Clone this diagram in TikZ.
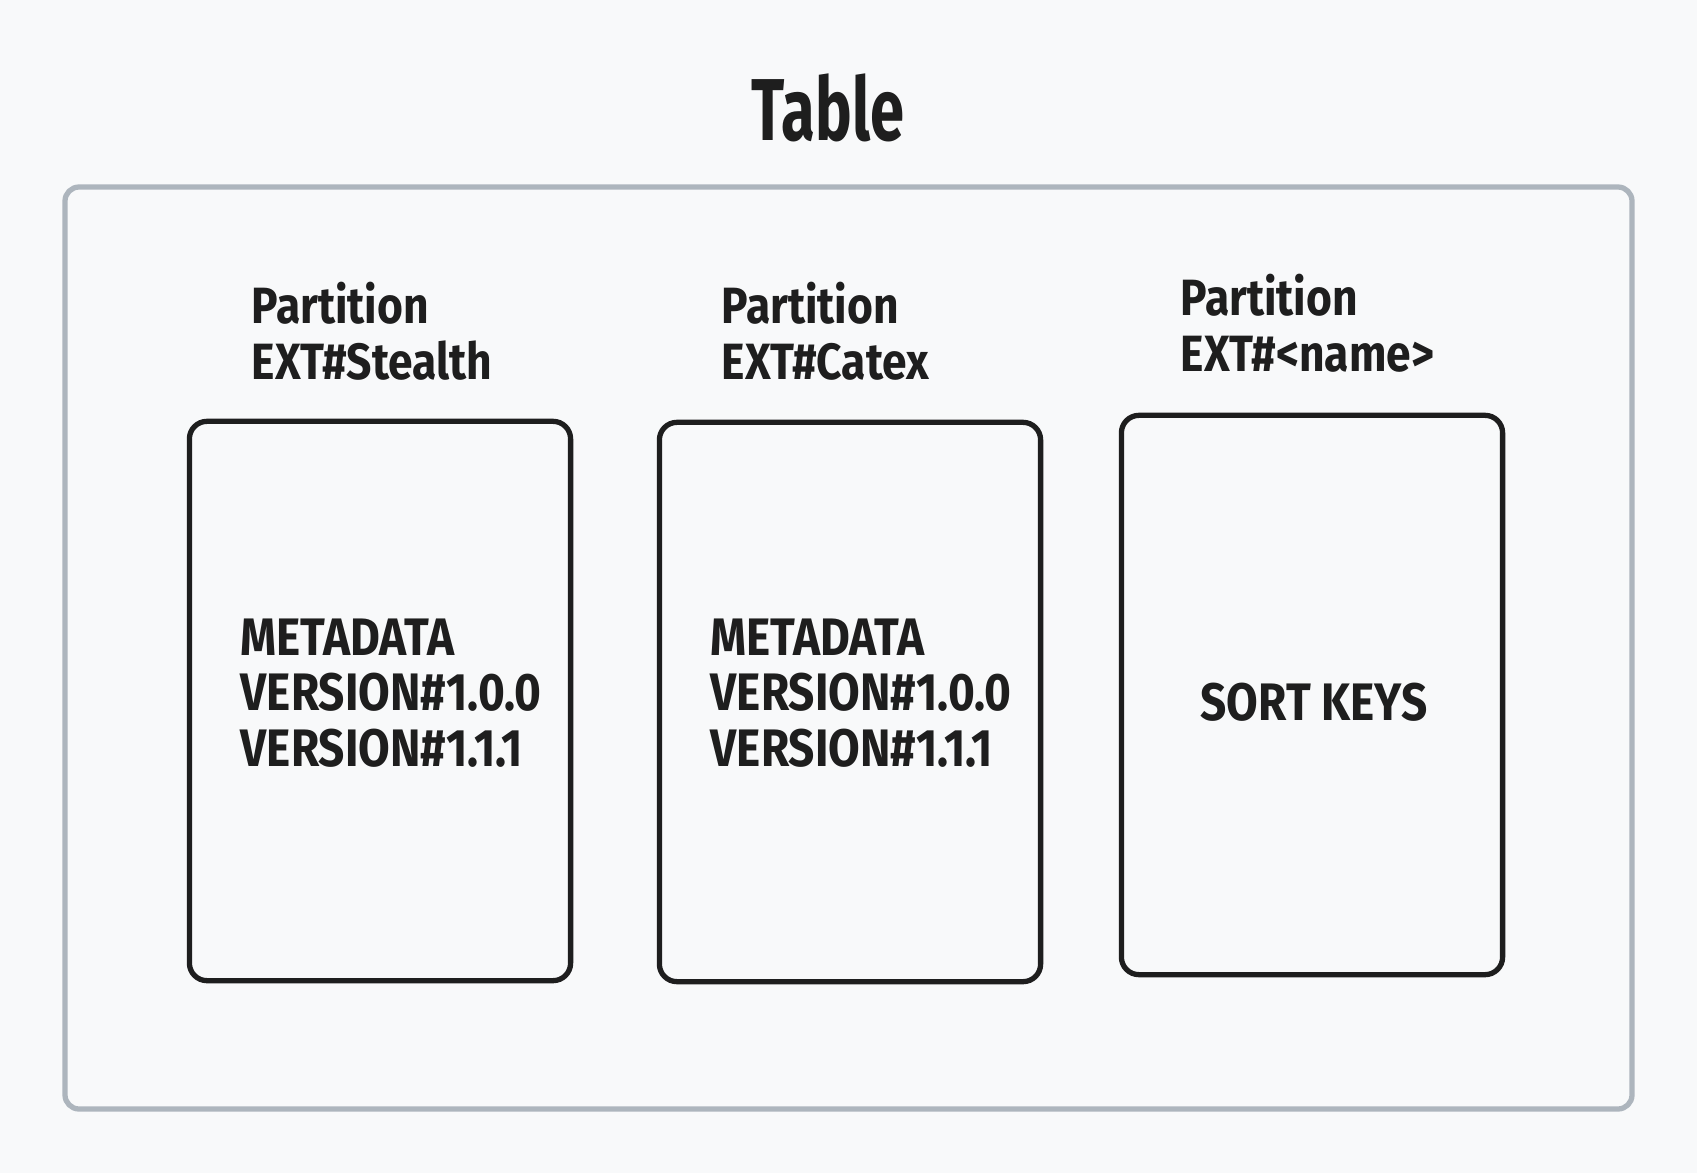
\documentclass[tikz,border=0pt]{standalone}
\usepackage{fontspec}
\setmainfont{Fira Sans}[FakeStretch=0.87]
\newfontfamily\titlefont{Fira Sans}[FakeStretch=0.7]
\usetikzlibrary{positioning}
\definecolor{bgpaper}{HTML}{F8F9FA}
\definecolor{framegray}{HTML}{ADB5BD}
\definecolor{inkblack}{HTML}{1E1E1E}
\begin{document}
\begin{tikzpicture}[x=0.01cm, y=-0.01cm, line join=round, line cap=round,
	partbox/.style={draw=inkblack, line width=1.5pt, rounded corners=5pt,
		minimum width=3.81cm, minimum height=5.59cm, inner sep=0pt},
	boxtext/.style={align=left, inner sep=0pt, anchor=base west,
		font=\bfseries\fontsize{15}{15.7}\selectfont, text=inkblack},
	partlabel/.style={align=left, inner sep=0pt, anchor=base west,
		font=\bfseries\fontsize{14.5}{15.7}\selectfont, text=inkblack}]
	\fill[bgpaper] (0,0) rectangle (1697,1173);
	\useasboundingbox (0,0) rectangle (1697,1173);
	% title and table frame
	\node[font=\titlefont\bfseries\fontsize{25}{25}\selectfont, text=inkblack] (title) at (828,108) {Table};
	\draw[framegray, line width=1.5pt, rounded corners=4pt] (65,187) rectangle (1632,1109);
	% partitions
	\node[partbox] (stealth) at (380,701) {};
	\node[partbox] (catex) at (850,702) {};
	\node[partbox] (named) at (1312,695) {};
	\node[boxtext] (stealthrows) at (240,766) {METADATA\\VERSION\#1.0.0\\VERSION\#1.1.1};
	\node[boxtext] (catexrows) at (710,766) {METADATA\\VERSION\#1.0.0\\VERSION\#1.1.1};
	\node[boxtext, anchor=base] (namedrows) at (1314,720) {SORT KEYS};
	% partition keys
	\node[partlabel] (stealthkey) at (251,379) {Partition\\EXT\#Stealth};
	\node[partlabel] (catexkey) at (721,379) {Partition\\EXT\#Catex};
	\node[partlabel] (namedkey) at (1180,371) {Partition\\EXT\#<name>};
\end{tikzpicture}
\end{document}
